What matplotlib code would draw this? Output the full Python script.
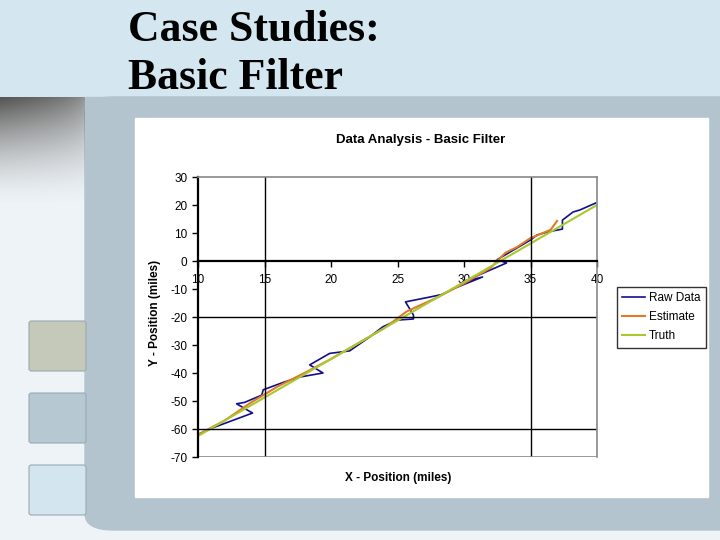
import numpy as np
import matplotlib
matplotlib.use("Agg")
import matplotlib.pyplot as plt
from matplotlib.patches import Rectangle, FancyBboxPatch

plt.rcParams['axes.unicode_minus'] = False

# values
raw_x = [10.0, 11.1, 14.1, 12.9, 13.5, 14.8, 14.9, 16.5, 17.7, 19.4, 18.4, 19.9, 21.4,
         22.8, 23.9, 25.0, 26.2, 26.2, 25.6, 27.4, 28.3, 29.4, 31.4, 29.9, 33.2, 32.5,
         35.0, 35.5, 36.3, 37.4, 37.4, 38.2, 38.7, 39.9]
raw_y = [-62.0, -59.6, -54.3, -51.0, -50.5, -47.9, -46.0, -43.2, -41.4, -40.0, -37.1, -33.0, -32.1,
         -27.5, -23.5, -21.1, -20.7, -19.3, -14.6, -12.9, -12.0, -9.5, -5.7, -7.5, -0.7, 0.5,
         7.5, 9.3, 10.4, 11.4, 14.6, 17.5, 18.2, 20.7]

est_x = [10, 12, 14, 16, 18, 20, 22, 24, 25.7, 28, 30, 32, 33.1, 34, 35, 36.5, 37.0]
est_y = [-62.0, -57.0, -50.5, -44.8, -40.0, -35.0, -29.5, -24.0, -18.0, -13.0, -8.0, -2.5,
         2.9, 5.0, 8.2, 11.1, 14.3]

truth_x = [10, 20, 30, 40]
truth_y = [-62.5, -35.0, -7.5, 20.0]

x_ticks = [10, 15, 20, 25, 30, 35, 40]
y_ticks = [30, 20, 10, 0, -10, -20, -30, -40, -50, -60, -70]


def px(x, y, w=0, h=0):
    # pixel box (top-left origin) -> figure fraction
    return x / 720, 1 - (y + h) / 540, w / 720, h / 540


fig = plt.figure(figsize=(7.2, 5.4), dpi=100)
fig.patch.set_facecolor('#eef3f8')

# slide background
x0, y0, w, h = px(0, 0, 720, 96)
fig.patches.append(Rectangle((x0, y0), w, h, transform=fig.transFigure, color='#d4e7f0', zorder=-5))
x0, y0, w, h = px(85, 97, 660, 433)
fig.patches.append(FancyBboxPatch((x0, y0), w, h, boxstyle='round,pad=0,rounding_size=0.04',
                                  mutation_aspect=0.75, transform=fig.transFigure,
                                  color='#b4c4ce', zorder=-5))
x0, y0, w, h = px(85, 97, 635, 40)
fig.patches.append(Rectangle((x0, y0), w, h, transform=fig.transFigure, color='#b4c4ce', zorder=-5))

# dark gradient in the top-left corner
gax = fig.add_axes(px(0, 97, 85, 110))
gax.set_zorder(-4)
gx, gy = np.meshgrid(np.linspace(0, 1, 85), np.linspace(0, 1, 110))
alpha = np.clip((1 - gy) ** 1.6 * (0.55 + 0.45 * (1 - gx) ** 0.5), 0, 1)
rgba = np.dstack([np.full_like(gy, 0.33), np.full_like(gy, 0.33), np.full_like(gy, 0.32), alpha])
gax.imshow(rgba, aspect='auto', extent=(0, 1, 0, 1), origin='upper')
gax.axis('off')

# the three squares on the left
for top, col in [(321, '#c5c9b9'), (393, '#b6c8d2'), (465, '#d3e5ee')]:
    x0, y0, w, h = px(29, top, 57, 50)
    fig.patches.append(FancyBboxPatch((x0, y0), w, h, boxstyle='round,pad=0,rounding_size=0.004',
                                      transform=fig.transFigure, facecolor=col,
                                      edgecolor='#9aa8b0', lw=0.8, zorder=-3))

# white chart area
x0, y0, w, h = px(135, 118, 573, 379)
fig.patches.append(Rectangle((x0, y0), w, h, transform=fig.transFigure, color='white', zorder=-3))

fig.text(128 / 720, 1 - 41 / 540, 'Case Studies:', family='Liberation Serif',
         weight='bold', fontsize=31.5, va='baseline', ha='left')
fig.text(128 / 720, 1 - 89 / 540, 'Basic Filter', family='Liberation Serif',
         weight='bold', fontsize=31.5, va='baseline', ha='left')

ax = fig.add_axes(px(198, 177, 399, 280))
ax.set_facecolor('none')
ax.plot(raw_x, raw_y, color='#10108c', lw=1.2, label='Raw Data')
ax.plot(est_x, est_y, color='#e07a2a', lw=1.5, label='Estimate')
ax.plot(truth_x, truth_y, color='#a8c82e', lw=1.5, label='Truth')

ax.axhline(-20, color='black', lw=1)
ax.axhline(-60, color='black', lw=1)
ax.axvline(15, color='black', lw=1)
ax.axvline(35, color='black', lw=1)
ax.axhline(-70, color='#888888', lw=1.2)

ax.set_xlim(10, 40)
ax.set_ylim(-70, 30)
ax.set_xticks(x_ticks)
ax.set_yticks(y_ticks)
ax.spines['bottom'].set_position(('data', 0))
for s in ['left', 'bottom']:
    ax.spines[s].set_linewidth(1.6)
    ax.spines[s].set_color('black')
for s in ['top', 'right']:
    ax.spines[s].set_color('#888888')
    ax.spines[s].set_linewidth(1.2)
ax.tick_params(axis='both', direction='out', length=4, width=1, labelsize=8.5)
ax.tick_params(axis='x', pad=5)
for t in ax.get_xticklabels() + ax.get_yticklabels():
    t.set_family('Liberation Sans')

fig.text(421 / 720, 1 - 140 / 540, 'Data Analysis - Basic Filter', family='Liberation Sans',
         weight='bold', fontsize=9.5, ha='center', va='center')
fig.text(155 / 720, 1 - 313 / 540, 'Y - Position (miles)', family='Liberation Sans',
         weight='bold', fontsize=8.5, ha='center', va='center', rotation=90)
fig.text(398 / 720, 1 - 478 / 540, 'X - Position (miles)', family='Liberation Sans',
         weight='bold', fontsize=8.5, ha='center', va='center')

leg = ax.legend(loc='upper left', bbox_to_anchor=(617 / 720, 1 - 287 / 540),
                bbox_transform=fig.transFigure, fancybox=False, frameon=True,
                edgecolor='black', borderaxespad=0, handlelength=1.9, handletextpad=0.35,
                labelspacing=0.6, borderpad=0.45, prop={'family': 'Liberation Sans', 'size': 8.5})
leg.get_frame().set_linewidth(1.0)

fig.savefig('out.png', dpi=100, facecolor=fig.get_facecolor())
